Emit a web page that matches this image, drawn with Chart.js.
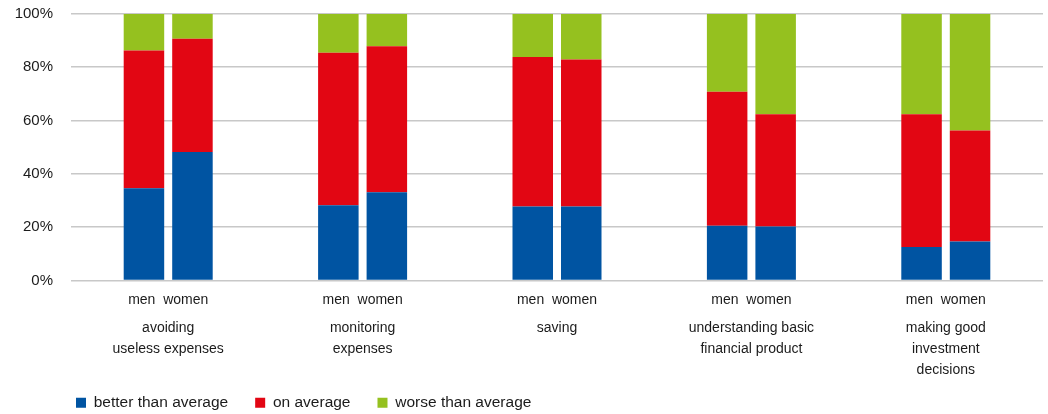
<!DOCTYPE html>
<html>
<head>
<meta charset="utf-8">
<script src="https://cdn.jsdelivr.net/npm/chart.js@4/dist/chart.umd.min.js"></script>
<style>
  html, body { margin: 0; padding: 0; background: #ffffff; }
  #wrap { width: 1048px; height: 414px; position: relative; }
</style>
</head>
<body>
<div id="wrap"><canvas id="c"></canvas></div>
<script>
// Financial skills self-assessment, share of respondents (%)
const categories = [
  ['avoiding', 'useless expenses'],
  ['monitoring', 'expenses'],
  ['saving'],
  ['understanding basic', 'financial product'],
  ['making good', 'investment', 'decisions']
];
const genderLabel = 'men  women';
const seriesNames = ['better than average', 'on average', 'worse than average'];
const seriesColors = ['#0054A2', '#E20613', '#95C11F'];

const betterMen   = [34.6, 28.2, 27.8, 20.5, 12.6];
const betterWomen = [48.2, 33.1, 27.8, 20.3, 14.6];
const averageMen   = [51.7, 57.3, 56.1, 50.3, 49.8];
const averageWomen = [42.5, 54.8, 55.1, 42.1, 41.7];
const worseMen   = [13.7, 14.5, 16.1, 29.2, 37.6];
const worseWomen = [ 9.3, 12.1, 17.1, 37.6, 43.7];

const yTicks = [0, 20, 40, 60, 80, 100];

const FONT = "'Liberation Sans', Arial, sans-serif";
const TEXT = '#1b1b1b';

function ds(label, data, color, stack) {
  return {
    label, data, stack,
    backgroundColor: color,
    borderWidth: 0,
    categoryPercentage: 0.499,
    barPercentage: 0.835
  };
}

const datasets = [
  ds(seriesNames[0], betterMen, seriesColors[0], 'men'),
  ds(seriesNames[0], betterWomen, seriesColors[0], 'women'),
  ds(seriesNames[1], averageMen, seriesColors[1], 'men'),
  ds(seriesNames[1], averageWomen, seriesColors[1], 'women'),
  ds(seriesNames[2], worseMen, seriesColors[2], 'men'),
  ds(seriesNames[2], worseWomen, seriesColors[2], 'women')
];

// Place the legend row under the left edge of the plot, near the bottom
const legendPlacement = {
  id: 'legendPlacement',
  afterLayout(chart) {
    const lg = chart.legend;
    if (!lg) return;
    const dx = 35;
    const dy = 368 - lg.top;
    lg.left += dx; lg.right += dx;
    lg.top += dy; lg.bottom += dy;
  }
};

new Chart(document.getElementById('c'), {
  type: 'bar',
  data: {
    labels: categories.map(() => genderLabel),
    datasets
  },
  plugins: [legendPlacement],
  options: {
    responsive: true,
    maintainAspectRatio: false,
    animation: false,
    layout: { padding: { left: 14, right: 5, top: 14, bottom: -22 } },
    scales: {
      x: {
        stacked: true,
        weight: 1,
        grid: { display: false, drawTicks: false },
        border: { display: false },
        ticks: {
          color: TEXT,
          padding: 11,
          maxRotation: 0,
          autoSkip: false,
          font: { family: FONT, size: 14 }
        },
        afterFit: (s) => { s.height = 29; }
      },
      x2: {
        type: 'category',
        position: 'bottom',
        weight: 2,
        labels: categories,
        offset: true,
        grid: { display: false, drawTicks: false },
        border: { display: false },
        ticks: {
          color: TEXT,
          padding: 8,
          maxRotation: 0,
          autoSkip: false,
          font: { family: FONT, size: 14, lineHeight: 1.5 }
        },
        afterFit: (s) => { s.height = 74; }
      },
      y: {
        stacked: true,
        min: 0,
        max: 100,
        afterBuildTicks: (s) => { s.ticks = yTicks.map(v => ({ value: v })); },
        grid: {
          color: '#c8c8c8',
          lineWidth: 1.6,
          drawTicks: true,
          tickLength: 15,
          tickColor: 'rgba(0,0,0,0)'
        },
        border: { display: false },
        ticks: {
          color: TEXT,
          padding: 3,
          font: { family: FONT, size: 15 },
          callback: (v) => v + '%'
        },
        afterFit: (s) => { s.width = 57; }
      }
    },
    plugins: {
      tooltip: { enabled: false },
      legend: {
        position: 'bottom',
        align: 'start',
        labels: {
          color: TEXT,
          boxWidth: 10,
          boxHeight: 10,
          padding: 27,
          font: { family: FONT, size: 15.5 },
          filter: (item) => item.datasetIndex % 2 === 0
        }
      }
    }
  }
});
</script>
</body>
</html>
